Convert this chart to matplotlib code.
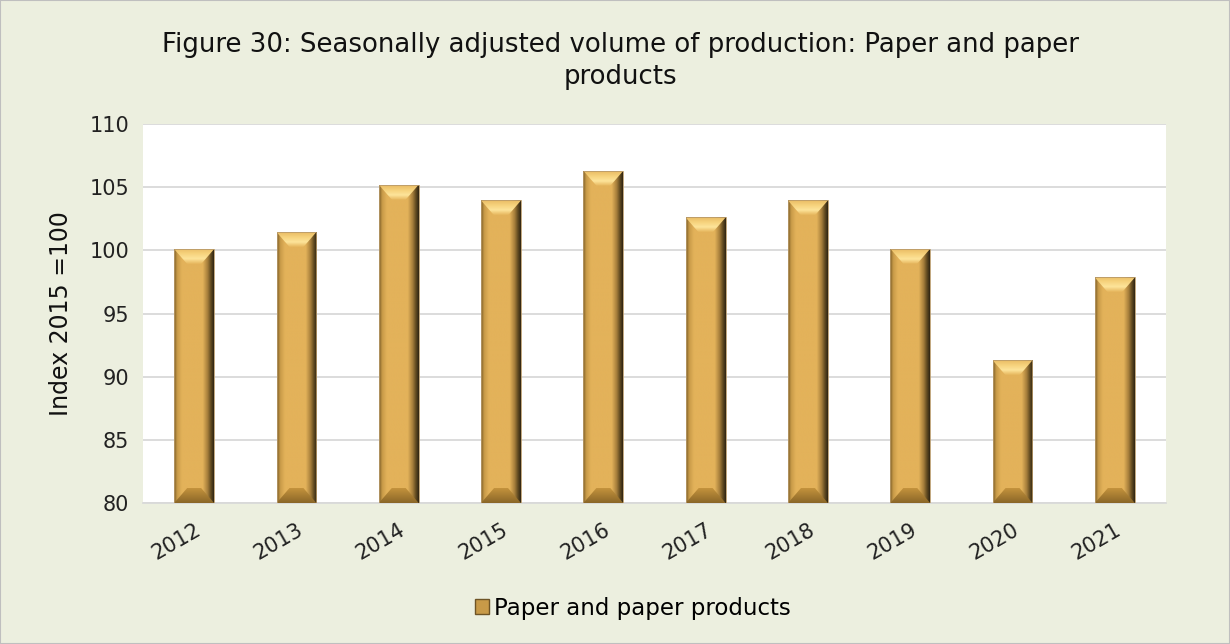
import numpy as np
import matplotlib
matplotlib.use("Agg")
import matplotlib.pyplot as plt
from matplotlib.patches import Polygon, Rectangle
from matplotlib.colors import LinearSegmentedColormap

years = ["2012", "2013", "2014", "2015", "2016", "2017", "2018", "2019", "2020", "2021"]
values = [100.1, 101.45, 105.2, 103.95, 106.3, 102.6, 103.95, 100.13, 91.3, 97.85]
series_name = "Paper and paper products"
title = "Figure 30: Seasonally adjusted volume of production: Paper and paper\nproducts"
ylabel = "Index 2015 =100"
yticks = [80, 85, 90, 95, 100, 105, 110]

plt.rcParams['font.family'] = ['DejaVu Sans']
BG = "#ECEFDF"
fig = plt.figure(figsize=(12.3, 6.44), dpi=100, facecolor=BG)
ax = fig.add_axes([143/1230, 1 - 503/644, (1166-143)/1230, (503-124)/644])
ax.set_facecolor("white")

x = np.arange(len(years))
width = 0.39
bars = ax.bar(x, values, width=width, bottom=0, color="#E3B25A", zorder=2)

ymin, ymax = 80, 110
ax.set_ylim(ymin, ymax)
ax.set_xlim(-0.5, len(years) - 0.5)

hcols = [(0.0, "#7a5c26"), (0.08, "#c89a48"), (0.2, "#E3B25A"), (0.72, "#E3B25A"),
         (0.84, "#a8803c"), (0.93, "#5e4820"), (1.0, "#2e2412")]
hcmap = LinearSegmentedColormap.from_list("h", hcols)
grad = np.linspace(0, 1, 256).reshape(1, -1)

px_per_x = (1166 - 143) / len(years)
px_per_y = (503 - 124) / (ymax - ymin)
bx = 13 / px_per_x
by = 15 / px_per_y

topcmap = LinearSegmentedColormap.from_list("t", ["#E6B55C", "#FDE49A", "#F6D27C", "#E9BB64"])
botcmap = LinearSegmentedColormap.from_list("b", ["#C8963E", "#8a6628"])
vgrad = np.linspace(0, 1, 64).reshape(-1, 1)

for b in bars:
    x0 = b.get_x(); x1 = x0 + b.get_width()
    y0 = ymin; y1 = b.get_height()
    clip = Rectangle((x0, y0), x1 - x0, y1 - y0, transform=ax.transData)
    im = ax.imshow(grad, extent=(x0, x1, y0, y1), aspect="auto", cmap=hcmap,
                   zorder=3, origin="lower", interpolation="bilinear")
    im.set_clip_path(clip)
    tp = Polygon([(x0, y1), (x1, y1), (x1 - bx, y1 - by), (x0 + bx, y1 - by)],
                 closed=True, transform=ax.transData)
    im2 = ax.imshow(vgrad, extent=(x0, x1, y1 - by, y1), aspect="auto", cmap=topcmap,
                    zorder=4, origin="lower", interpolation="bilinear")
    im2.set_clip_path(tp)
    bp = Polygon([(x0, y0), (x1, y0), (x1 - bx, y0 + by), (x0 + bx, y0 + by)],
                 closed=True, transform=ax.transData)
    im3 = ax.imshow(vgrad, extent=(x0, x1, y0, y0 + by), aspect="auto", cmap=botcmap,
                    zorder=4, origin="upper", interpolation="bilinear")
    im3.set_clip_path(bp)
    ax.add_patch(Rectangle((x0, y0), x1 - x0, y1 - y0, fill=False,
                           edgecolor="#b89a6a", lw=0.6, zorder=5))

ax.set_ylim(ymin, ymax)
ax.set_xlim(-0.5, len(years) - 0.5)
ax.set_yticks(yticks)
ax.set_yticklabels([str(t) for t in yticks], fontsize=15, color="#222222")
ax.set_xticks(x)
ax.set_xticklabels(years, rotation=30, fontsize=15, color="#222222",
                   ha="right", rotation_mode="anchor")
ax.tick_params(axis="y", length=0, pad=10)
ax.tick_params(axis="x", length=0, pad=12)
ax.grid(axis="y", color="#D9D9D9", lw=1.3, zorder=0)
ax.set_axisbelow(True)
for s in ["top", "right", "left"]:
    ax.spines[s].set_visible(False)
ax.spines["bottom"].set_color("#D9D9D9")
ax.spines["bottom"].set_linewidth(1.3)

ax.set_ylabel(ylabel, fontsize=17, color="#111111", labelpad=12)
fig.text(620/1230, 1 - 61/644, title, ha="center", va="center", fontsize=18.7,
         color="#111111", linespacing=1.35)

leg_handle = Rectangle((0, 0), 1, 1, facecolor="#C89A48", edgecolor="#6e5426")
fig.legend([leg_handle], [series_name], loc="center", bbox_to_anchor=(633/1230, 1 - 608/644),
           frameon=False, fontsize=16.5, handlelength=0.6, handleheight=0.6, handletextpad=0.25)

fig.patches.append(Rectangle((0, 0), 1, 1, transform=fig.transFigure, fill=False,
                             edgecolor="#BFBFBF", lw=1.5))
fig.savefig("out.png", dpi=100, facecolor=BG)
